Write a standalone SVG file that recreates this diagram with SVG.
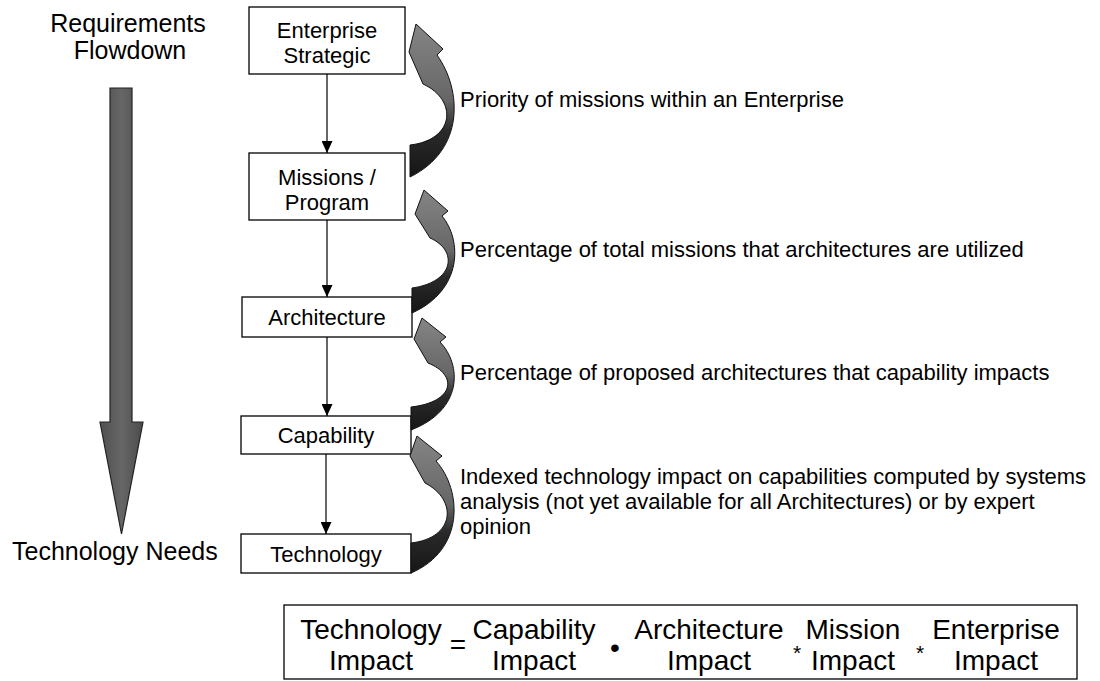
<svg xmlns="http://www.w3.org/2000/svg" width="1100" height="681" viewBox="0 0 1100 681">
<defs>
<style>
text{font-family:"Liberation Sans",Arial,sans-serif;fill:#000}
.box{fill:#fff;stroke:#000;stroke-width:1.3}
.lbl{font-size:22px;text-anchor:middle}
.ann{font-size:22px}
.side{font-size:25px}
.fx{font-size:28px;text-anchor:middle}
.op{font-size:21px;text-anchor:middle}
.conn{stroke:#000;stroke-width:1.2;fill:none;marker-end:url(#ah)}
.curve{fill:url(#cg);stroke:#111;stroke-width:1}
</style>
<marker id="ah" viewBox="0 0 12 11" refX="12" refY="5.5" markerWidth="12" markerHeight="11" markerUnits="userSpaceOnUse" orient="auto">
<path d="M0,0 L12,5.5 L0,11 Z" fill="#000"/>
</marker>
<linearGradient id="cg" x1="0" y1="0" x2="0" y2="1">
<stop offset="0" stop-color="#858585"/>
<stop offset="0.5" stop-color="#666"/>
<stop offset="0.7" stop-color="#2a2a2a"/>
<stop offset="1" stop-color="#161616"/>
</linearGradient>
<linearGradient id="dg" x1="0" y1="0" x2="1" y2="0">
<stop offset="0" stop-color="#505050"/>
<stop offset="0.5" stop-color="#666"/>
<stop offset="1" stop-color="#4c4c4c"/>
</linearGradient>
</defs>

<g id="flowdown">
<text class="side" x="128" y="32" text-anchor="middle">Requirements</text>
<text class="side" x="130" y="59" text-anchor="middle">Flowdown</text>
<path d="M110,88 L132,88 L132,422 L143,422 L121.5,534 L100,422 L110,422 Z" fill="url(#dg)" stroke="#222" stroke-width="1.2"/>
<text class="side" x="12" y="560">Technology Needs</text>
</g>

<g id="node-enterprise">
<rect class="box" x="249" y="7" width="156" height="67"/>
<text class="lbl" x="327" y="38">Enterprise</text>
<text class="lbl" x="327" y="63">Strategic</text>
</g>
<g id="node-missions">
<rect class="box" x="249" y="153" width="156" height="67"/>
<text class="lbl" x="327" y="185">Missions /</text>
<text class="lbl" x="327" y="210">Program</text>
</g>
<g id="node-architecture">
<rect class="box" x="242" y="297" width="170" height="40"/>
<text class="lbl" x="327" y="325">Architecture</text>
</g>
<g id="node-capability">
<rect class="box" x="241" y="416" width="170" height="38"/>
<text class="lbl" x="326" y="443">Capability</text>
</g>
<g id="node-technology">
<rect class="box" x="241" y="534" width="170" height="39"/>
<text class="lbl" x="326" y="562">Technology</text>
</g>

<g id="connectors">
<line class="conn" x1="327" y1="74" x2="327" y2="153"/>
<line class="conn" x1="327" y1="220" x2="327" y2="297"/>
<line class="conn" x1="327" y1="337" x2="327" y2="416"/>
<line class="conn" x1="326" y1="454" x2="326" y2="534"/>
<path class="curve" d="M416,24 L443,49 L437,55 C462,90 465,150 410,177 L410,145 C455,140 458,100 423,84 L409,52 Z"/>
<path class="curve" d="M424,190 L448,211 L442,216 C462,240 463,290 412,313 L412,288 C455,282 458,250 430,238 L415,214 Z"/>
<path class="curve" d="M422,318 L446,337 L440,342 C462,365 463,410 411,430 L411,407 C455,402 458,375 428,363 L414,339 Z"/>
<path class="curve" d="M417,436 L442,456 L436,461 C462,490 465,550 411,573 L411,543 C455,538 458,500 425,483 L410,456 Z"/>
</g>

<g id="annotations">
<text class="ann" x="460" y="107">Priority of missions within an Enterprise</text>
<text class="ann" x="460" y="257">Percentage of total missions that architectures are utilized</text>
<text class="ann" x="460" y="380">Percentage of proposed architectures that capability impacts</text>
<text class="ann" x="460" y="484">Indexed technology impact on capabilities computed by systems</text>
<text class="ann" x="460" y="509">analysis (not yet available for all Architectures) or by expert</text>
<text class="ann" x="460" y="534">opinion</text>
</g>

<g id="formula">
<rect class="box" x="284" y="605" width="793" height="74"/>
<text class="fx" x="371" y="639">Technology</text>
<text class="fx" x="371" y="670">Impact</text>
<text class="fx" x="458" y="654">=</text>
<text class="fx" x="534" y="639">Capability</text>
<text class="fx" x="534" y="670">Impact</text>
<text class="fx" x="615" y="657">•</text>
<text class="fx" x="709" y="639">Architecture</text>
<text class="fx" x="709" y="670">Impact</text>
<text class="op" x="797" y="660">*</text>
<text class="fx" x="853" y="639">Mission</text>
<text class="fx" x="853" y="670">Impact</text>
<text class="op" x="920" y="660">*</text>
<text class="fx" x="996" y="639">Enterprise</text>
<text class="fx" x="996" y="670">Impact</text>
</g>
</svg>
